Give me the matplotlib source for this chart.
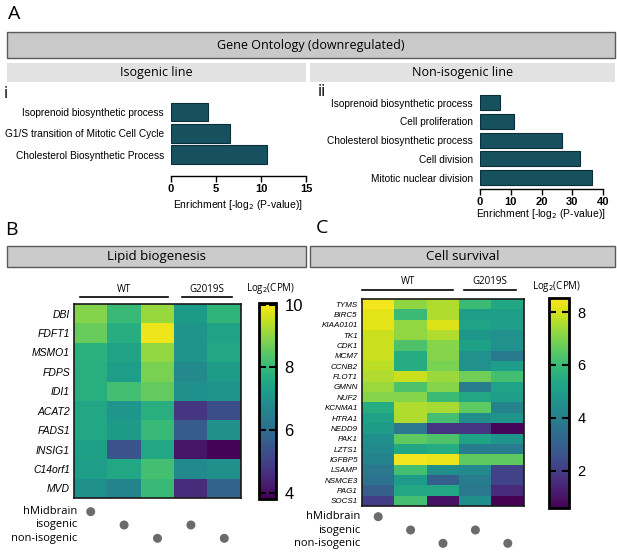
import numpy as np
import matplotlib
matplotlib.use("Agg")
import matplotlib.pyplot as plt
from matplotlib.patches import Rectangle
from matplotlib.lines import Line2D

# ---------------- data ----------------
go_iso_terms = ["Isoprenoid biosynthetic process",
                "G1/S transition of Mitotic Cell Cycle",
                "Cholesterol Biosynthetic Process"]
go_iso_vals = [4.1, 6.6, 10.7]

go_noniso_terms = ["Isoprenoid biosynthetic process", "Cell proliferation",
                   "Cholesterol biosynthetic process", "Cell division",
                   "Mitotic nuclear division"]
go_noniso_vals = [6.5, 11.1, 26.7, 32.5, 36.4]

lipid_genes = ["DBI", "FDFT1", "MSMO1", "FDPS", "IDI1", "ACAT2", "FADS1",
               "INSIG1", "C14orf1", "MVD"]
lipid_vals = [
    [8.9, 8.05, 9.1, 7.2, 7.9],
    [8.6, 7.7, 9.9, 7.05, 7.4],
    [7.8, 7.4, 9.05, 7.05, 7.55],
    [7.75, 7.3, 8.8, 6.75, 7.25],
    [7.75, 8.2, 8.55, 6.95, 7.05],
    [7.55, 7.1, 7.75, 4.8, 5.3],
    [7.55, 7.2, 8.05, 5.6, 6.95],
    [7.35, 5.4, 7.55, 4.15, 3.85],
    [7.3, 7.55, 8.2, 6.8, 6.95],
    [6.95, 6.6, 8.05, 4.6, 5.8],
]

surv_genes = ["TYMS", "BIRC5", "KIAA0101", "TK1", "CDK1", "MCM7", "CCNB2",
              "FLOT1", "GMNN", "NUF2", "KCNMA1", "HTRA1", "NEDD9", "PAK1",
              "LZTS1", "IGFBP5", "LSAMP", "NSMCE3", "PAG1", "SOCS1"]
surv_vals = [
    [8.4, 7.2, 7.6, 6.0, 5.35],
    [8.2, 6.0, 7.6, 5.0, 5.0],
    [8.2, 7.25, 8.1, 5.2, 5.0],
    [7.9, 7.25, 7.6, 4.8, 4.6],
    [7.9, 6.3, 7.1, 5.1, 4.6],
    [7.9, 5.5, 7.1, 4.6, 3.8],
    [7.75, 5.5, 6.95, 4.6, 5.0],
    [7.6, 7.9, 7.35, 6.8, 6.15],
    [7.35, 6.3, 7.1, 3.95, 5.2],
    [7.1, 7.1, 6.0, 5.35, 5.0],
    [5.5, 7.6, 7.5, 6.55, 4.15],
    [5.2, 7.6, 6.15, 4.55, 4.7],
    [4.95, 3.75, 1.8, 1.8, 0.75],
    [4.55, 6.55, 6.3, 5.2, 4.7],
    [4.4, 5.35, 5.5, 3.95, 3.95],
    [4.15, 8.4, 8.3, 6.55, 6.55],
    [3.75, 6.15, 4.55, 4.4, 2.2],
    [3.6, 4.95, 3.0, 3.95, 2.2],
    [3.0, 5.35, 5.35, 3.75, 1.55],
    [2.05, 6.15, 1.0, 4.55, 0.6],
]

sample_groups = ["hMidbrain", "isogenic", "non-isogenic"]
sample_group_of_col = [0, 1, 2, 1, 2]   # row index of the dot for each column

lipid_cbar_ticks = [4, 6, 8, 10]
surv_cbar_ticks = [2, 4, 6, 8]

# ---------------- layout helpers ----------------
W, H = 617, 553
fig = plt.figure(figsize=(W / 100, H / 100), dpi=100)

def rect(x0, y0, x1, y1):
    return fig.add_axes([x0 / W, 1 - y1 / H, (x1 - x0) / W, (y1 - y0) / H])

def fx(x):
    return x / W

def fy(y):
    return 1 - y / H

HEAD = "Open Sans"
ARIAL = ["Liberation Sans", "DejaVu Sans"]
NARROW = ["Liberation Sans Narrow", "Liberation Sans", "DejaVu Sans"]

def header_box(x0, y0, x1, y1, text, fc, ec, size, lw=1.0):
    fig.patches.append(Rectangle((fx(x0), fy(y1)), fx(x1) - fx(x0), fy(y0) - fy(y1),
                                 transform=fig.transFigure, facecolor=fc,
                                 edgecolor=ec if ec else fc, linewidth=lw if ec else 0))
    fig.text(fx((x0 + x1) / 2), fy((y0 + y1) / 2), text, ha="center", va="center",
             fontsize=size, family=HEAD)

def hline(x0, x1, y, lw=1.2):
    fig.lines.append(Line2D([fx(x0), fx(x1)], [fy(y), fy(y)], transform=fig.transFigure,
                            color="black", linewidth=lw))

# ---------------- headers ----------------
fig.text(fx(8), fy(14), "A", fontsize=14, family=HEAD, va="center")
header_box(7, 32, 615, 58, "Gene Ontology (downregulated)", "#c9c9c9", "#5a5a5a", 9)
header_box(7, 63, 306, 82, "Isogenic line", "#e2e2e2", None, 9)
header_box(310, 63, 615, 82, "Non-isogenic line", "#e2e2e2", None, 9)
fig.text(fx(4), fy(94), "i", fontsize=12, family=HEAD, va="center")
fig.text(fx(318), fy(92), "ii", fontsize=12, family=HEAD, va="center")

fig.text(fx(5), fy(230), "B", fontsize=14, family=HEAD, va="center")
fig.text(fx(316), fy(228), "C", fontsize=14, family=HEAD, va="center")
header_box(7, 246, 306, 267, "Lipid biogenesis", "#cbcbcb", "#5a5a5a", 9.5)
header_box(310, 246, 615, 267, "Cell survival", "#cbcbcb", "#5a5a5a", 9.5)

# ---------------- bar charts ----------------
BAR_FC = "#17505f"
BAR_EC = "#0b2f39"

def go_bars(ax, terms, vals, xmax, step, height, ylim, labfs):
    y = np.arange(len(terms))
    ax.barh(y, vals, height=height, color=BAR_FC, edgecolor=BAR_EC, linewidth=0.8)
    ax.set_xlim(0, xmax)
    ax.set_ylim(*ylim)
    ax.set_yticks(y)
    ax.set_yticklabels(terms, fontsize=labfs, family=ARIAL)
    ax.tick_params(axis="y", length=0, pad=5)
    ax.set_xticks(np.arange(0, xmax + 0.1, step))
    ax.tick_params(axis="x", direction="out", length=4, width=1, pad=2)
    for t in ax.get_xticklabels():
        t.set_fontweight("bold")
        t.set_fontsize(8)
        t.set_family(ARIAL)
    for s in ["top", "right", "left"]:
        ax.spines[s].set_visible(False)
    ax.spines["bottom"].set_linewidth(1)
    ax.patch.set_alpha(0)

ax_i = rect(171, 100, 306, 176)
go_bars(ax_i, go_iso_terms, go_iso_vals, 15, 5, 0.89, (3.01, -0.565), 7.3)
fig.text(fx(238), fy(205), r"Enrichment [-log$_2$ (P-value)]", ha="center", va="center",
         fontsize=7.5, family=ARIAL)

ax_ii = rect(480, 92, 603, 189)
go_bars(ax_ii, go_noniso_terms, go_noniso_vals, 40, 10, 0.8, (4.61, -0.56), 7.3)
fig.text(fx(541), fy(214), r"Enrichment [-log$_2$ (P-value)]", ha="center", va="center",
         fontsize=7.5, family=ARIAL)

# ---------------- heatmaps ----------------
def heatmap(box, cbox, genes, vals, vmin, vmax, ticks, genefs, cbfs, cb_tick_len):
    ax = rect(*box)
    data = np.array(vals)
    im = ax.imshow(data, cmap="viridis", vmin=vmin, vmax=vmax, aspect="auto",
                   interpolation="nearest")
    ax.set_yticks(np.arange(len(genes)))
    ax.set_yticklabels(genes, fontsize=genefs, family=NARROW, style="italic")
    ax.tick_params(axis="y", length=0, pad=3)
    ax.set_xticks([])
    for s in ax.spines.values():
        s.set_linewidth(1.2)
        s.set_color("#1a1a1a")
    cax = rect(*cbox)
    cb = fig.colorbar(im, cax=cax)
    cb.set_ticks(ticks)
    cb.ax.tick_params(direction="in", length=cb_tick_len, width=1.5, left=True,
                      right=True, labelsize=cbfs, pad=6)
    for t in cb.ax.get_yticklabels():
        t.set_family(ARIAL)
    cb.outline.set_linewidth(2)
    return ax

heatmap((74, 304, 241, 498), (259, 303, 276, 499), lipid_genes, lipid_vals,
        3.8, 10.06, lipid_cbar_ticks, 7.5, 12, 5)
heatmap((362, 299, 524, 506), (549, 298, 569, 508), surv_genes, surv_vals,
        0.6, 8.53, surv_cbar_ticks, 5.8, 10.5, 5)

# group labels
fig.text(fx(124), fy(289), "WT", ha="center", va="center", fontsize=7, family=HEAD)
hline(80, 168, 297)
fig.text(fx(207), fy(289), "G2019S", ha="center", va="center", fontsize=7, family=HEAD)
hline(182, 232, 297)
fig.text(fx(271), fy(289), r"Log$_2$(CPM)", ha="center", va="center", fontsize=7, family=HEAD)

fig.text(fx(408), fy(282), "WT", ha="center", va="center", fontsize=7, family=HEAD)
hline(362, 453, 290)
fig.text(fx(490), fy(282), "G2019S", ha="center", va="center", fontsize=7, family=HEAD)
hline(464, 516, 290)
fig.text(fx(557), fy(287), r"Log$_2$(CPM)", ha="center", va="center", fontsize=7, family=HEAD)

# ---------------- sample dots ----------------
def dots(box, label_x):
    ax = rect(*box)
    cols = np.arange(len(sample_group_of_col))
    ax.scatter(cols, sample_group_of_col, s=42, color="#6b6b6b", edgecolor="none")
    ax.set_xlim(-0.5, len(cols) - 0.5)
    ax.set_ylim(len(sample_groups) - 0.5, -0.5)
    ax.axis("off")
    y0, y1 = box[1], box[3]
    step = (y1 - y0) / len(sample_groups)
    for i, g in enumerate(sample_groups):
        fig.text(fx(label_x), fy(y0 + step * (i + 0.5)), g, ha="right", va="center",
                 fontsize=8, family=HEAD)

dots((74, 505, 241, 545), 77)
dots((362, 510, 524, 550), 360)

fig.savefig("out.png", dpi=100)
